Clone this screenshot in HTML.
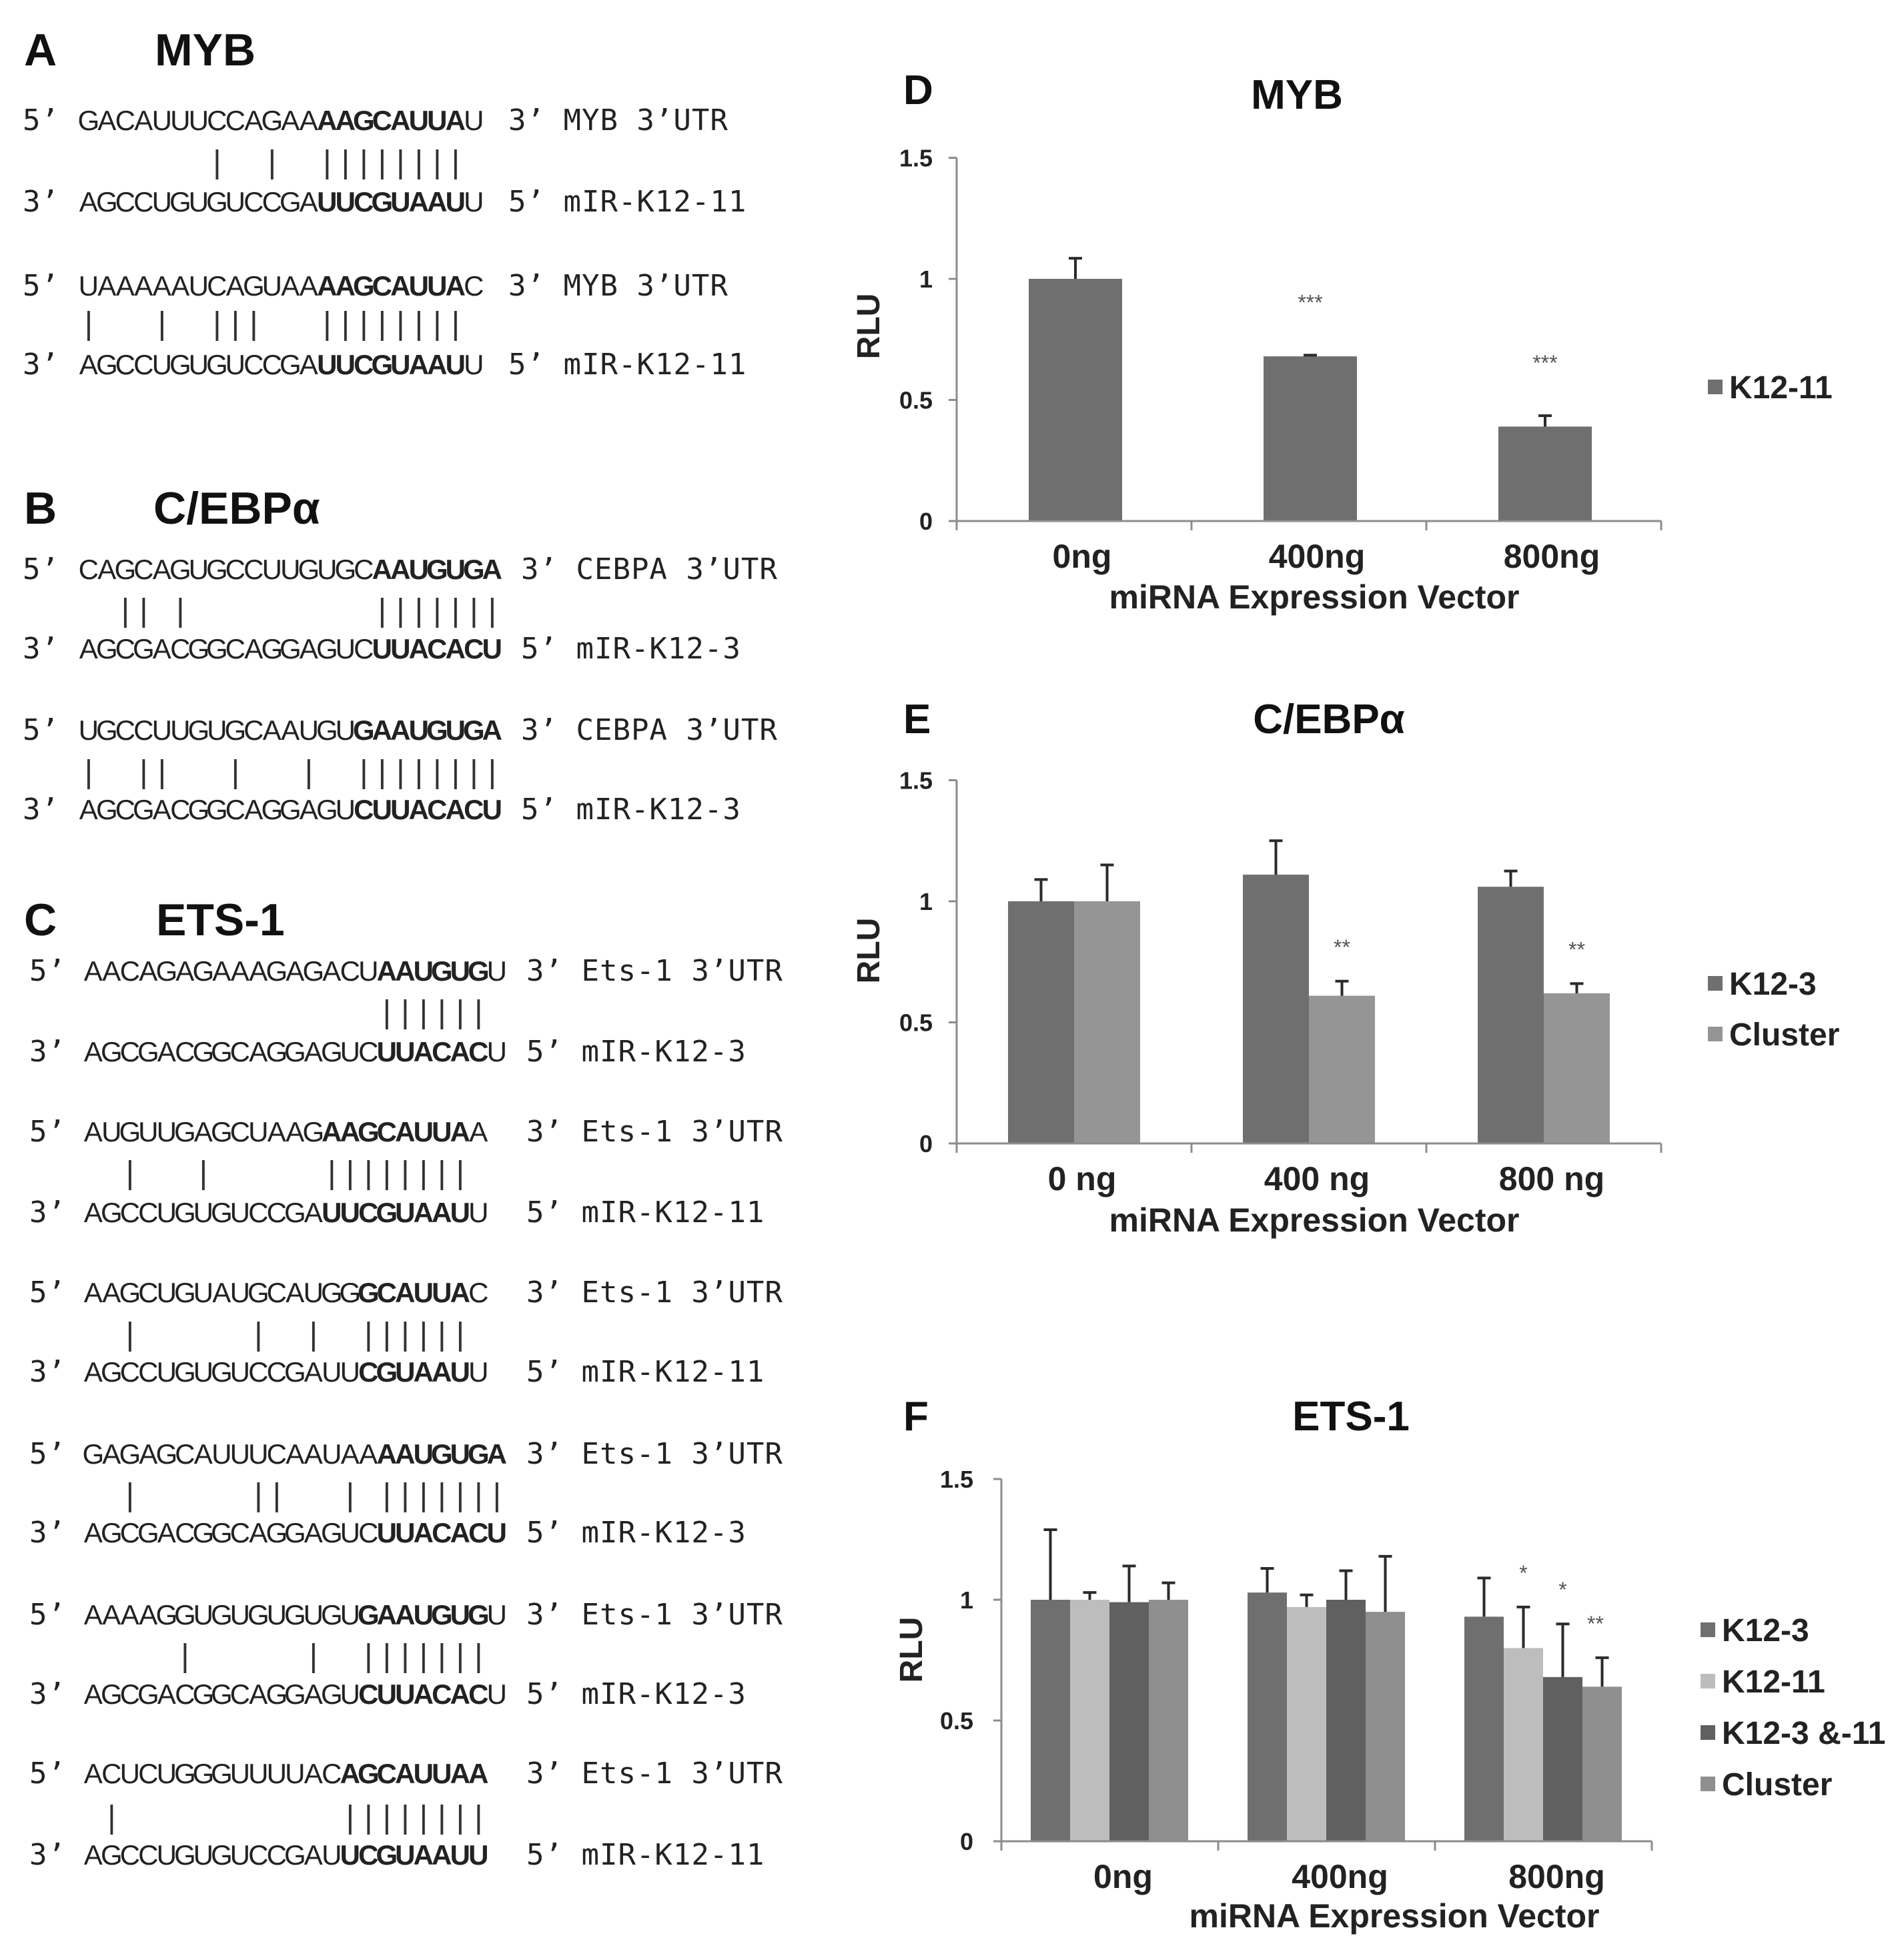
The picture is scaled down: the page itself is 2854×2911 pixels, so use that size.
<!DOCTYPE html>
<html><head><meta charset="utf-8">
<style>
html,body{margin:0;padding:0;background:#fff;}
svg{display:block;}
.ttl{font-family:"Liberation Sans",sans-serif;font-weight:bold;fill:#111;}
.seq{font-family:"Liberation Sans",sans-serif;font-size:42px;fill:#222;white-space:pre;}
.lbl{font-family:"DejaVu Sans Mono","Liberation Mono",monospace;font-size:44px;fill:#222;white-space:pre;letter-spacing:1px;}
.pipe{font-family:"Liberation Sans",sans-serif;font-size:48px;fill:#333;white-space:pre;}
.ax{font-family:"Liberation Sans",sans-serif;font-weight:bold;fill:#222;}
.star{font-family:"Liberation Sans",sans-serif;font-size:32px;fill:#555;}
.b{font-weight:bold;}
</style></head>
<body>
<svg id="fig" width="2854" height="2911" viewBox="0 0 2854 2911" xmlns="http://www.w3.org/2000/svg">
<rect width="2854" height="2911" fill="#fff"/>
<g id="left">
  <!-- A -->
  <text class="ttl" x="36" y="98" font-size="68">A</text>
  <text class="ttl" x="232" y="98" font-size="68">MYB</text>
  <text class="lbl" x="34" y="195">5’</text>
  <text class="seq row" data-x="119" data-y="195">GACAUUUCCAGAA<tspan class="b">AAGCAUUA</tspan>U</text>
  <text class="lbl" x="762" y="195">3’ MYB 3’UTR</text>
  <text class="pipe row" data-x="119" data-y="259">       |  |  ||||||||</text>
  <text class="lbl" x="34" y="317">3’</text>
  <text class="seq row" data-x="119" data-y="317">AGCCUGUGUCCGA<tspan class="b">UUCGUAAU</tspan>U</text>
  <text class="lbl" x="762" y="317">5’ mIR-K12-11</text>

  <text class="lbl" x="34" y="443">5’</text>
  <text class="seq row" data-x="119" data-y="443">UAAAAAUCAGUAA<tspan class="b">AAGCAUUA</tspan>C</text>
  <text class="lbl" x="762" y="443">3’ MYB 3’UTR</text>
  <text class="pipe row" data-x="119" data-y="501">|   |  |||   ||||||||</text>
  <text class="lbl" x="34" y="561">3’</text>
  <text class="seq row" data-x="119" data-y="561">AGCCUGUGUCCGA<tspan class="b">UUCGUAAU</tspan>U</text>
  <text class="lbl" x="762" y="561">5’ mIR-K12-11</text>

  <!-- B -->
  <text class="ttl" x="36" y="785" font-size="68">B</text>
  <text class="ttl" x="230" y="785" font-size="68">C/EBPα</text>
  <text class="lbl" x="34" y="868">5’</text>
  <text class="seq row" data-x="119" data-y="868">CAGCAGUGCCUUGUGC<tspan class="b">AAUGUGA</tspan></text>
  <text class="lbl" x="781" y="868">3’ CEBPA 3’UTR</text>
  <text class="pipe row" data-x="119" data-y="931">  || |          |||||||</text>
  <text class="lbl" x="34" y="987">3’</text>
  <text class="seq row" data-x="119" data-y="987">AGCGACGGCAGGAGUC<tspan class="b">UUACACU</tspan></text>
  <text class="lbl" x="781" y="987">5’ mIR-K12-3</text>

  <text class="lbl" x="34" y="1109">5’</text>
  <text class="seq row" data-x="119" data-y="1109">UGCCUUGUGCAAUGU<tspan class="b">GAAUGUGA</tspan></text>
  <text class="lbl" x="781" y="1109">3’ CEBPA 3’UTR</text>
  <text class="pipe row" data-x="119" data-y="1173">|  ||   |   |  ||||||||</text>
  <text class="lbl" x="34" y="1228">3’</text>
  <text class="seq row" data-x="119" data-y="1228">AGCGACGGCAGGAGU<tspan class="b">CUUACACU</tspan></text>
  <text class="lbl" x="781" y="1228">5’ mIR-K12-3</text>

  <!-- C -->
  <text class="ttl" x="36" y="1402" font-size="68">C</text>
  <text class="ttl" x="234" y="1402" font-size="68">ETS-1</text>

  <text class="lbl" x="44" y="1470">5’</text>
  <text class="seq row" data-x="126" data-y="1470">AACAGAGAAAGAGACU<tspan class="b">AAUGUG</tspan>U</text>
  <text class="lbl" x="789" y="1470">3’ Ets-1 3’UTR</text>
  <text class="pipe row" data-x="126" data-y="1533">                ||||||</text>
  <text class="lbl" x="44" y="1591">3’</text>
  <text class="seq row" data-x="126" data-y="1591">AGCGACGGCAGGAGUC<tspan class="b">UUACAC</tspan>U</text>
  <text class="lbl" x="789" y="1591">5’ mIR-K12-3</text>

  <text class="lbl" x="44" y="1711">5’</text>
  <text class="seq row" data-x="126" data-y="1711">AUGUUGAGCUAAG<tspan class="b">AAGCAUUA</tspan>A</text>
  <text class="lbl" x="789" y="1711">3’ Ets-1 3’UTR</text>
  <text class="pipe row" data-x="126" data-y="1774">  |   |      ||||||||</text>
  <text class="lbl" x="44" y="1832">3’</text>
  <text class="seq row" data-x="126" data-y="1832">AGCCUGUGUCCGA<tspan class="b">UUCGUAAU</tspan>U</text>
  <text class="lbl" x="789" y="1832">5’ mIR-K12-11</text>

  <text class="lbl" x="44" y="1952">5’</text>
  <text class="seq row" data-x="126" data-y="1952">AAGCUGUAUGCAUGG<tspan class="b">GCAUUA</tspan>C</text>
  <text class="lbl" x="789" y="1952">3’ Ets-1 3’UTR</text>
  <text class="pipe row" data-x="126" data-y="2016">  |      |  |  ||||||</text>
  <text class="lbl" x="44" y="2071">3’</text>
  <text class="seq row" data-x="126" data-y="2071">AGCCUGUGUCCGAUU<tspan class="b">CGUAAU</tspan>U</text>
  <text class="lbl" x="789" y="2071">5’ mIR-K12-11</text>

  <text class="lbl" x="44" y="2194">5’</text>
  <text class="seq row" data-x="126" data-y="2194">GAGAGCAUUUCAAUAA<tspan class="b">AAUGUGA</tspan></text>
  <text class="lbl" x="789" y="2194">3’ Ets-1 3’UTR</text>
  <text class="pipe row" data-x="126" data-y="2257">  |      ||   | |||||||</text>
  <text class="lbl" x="44" y="2312">3’</text>
  <text class="seq row" data-x="126" data-y="2312">AGCGACGGCAGGAGUC<tspan class="b">UUACACU</tspan></text>
  <text class="lbl" x="789" y="2312">5’ mIR-K12-3</text>

  <text class="lbl" x="44" y="2435">5’</text>
  <text class="seq row" data-x="126" data-y="2435">AAAAGGUGUGUGUGU<tspan class="b">GAAUGUG</tspan>U</text>
  <text class="lbl" x="789" y="2435">3’ Ets-1 3’UTR</text>
  <text class="pipe row" data-x="126" data-y="2498">     |      |  |||||||</text>
  <text class="lbl" x="44" y="2554">3’</text>
  <text class="seq row" data-x="126" data-y="2554">AGCGACGGCAGGAGU<tspan class="b">CUUACAC</tspan>U</text>
  <text class="lbl" x="789" y="2554">5’ mIR-K12-3</text>

  <text class="lbl" x="44" y="2673">5’</text>
  <text class="seq row" data-x="126" data-y="2673">ACUCUGGGUUUUAC<tspan class="b">AGCAUUAA</tspan></text>
  <text class="lbl" x="789" y="2673">3’ Ets-1 3’UTR</text>
  <text class="pipe row" data-x="126" data-y="2740"> |            ||||||||</text>
  <text class="lbl" x="44" y="2795">3’</text>
  <text class="seq row" data-x="126" data-y="2795">AGCCUGUGUCCGAU<tspan class="b">UCGUAAUU</tspan></text>
  <text class="lbl" x="789" y="2795">5’ mIR-K12-11</text>
</g>

<g>
  <text class="ttl" x="1354" y="156" font-size="62">D</text>
  <text class="ttl" x="1944" y="163" font-size="62" text-anchor="middle">MYB</text>
  <text class="ax" transform="translate(1318,489) rotate(-90)" font-size="48" text-anchor="middle">RLU</text>
  <text class="ax" x="1970" y="912" font-size="50" text-anchor="middle">miRNA Expression Vector</text>
  <g id="gD"></g>
</g>
<g>
  <text class="ttl" x="1354" y="1099" font-size="62">E</text>
  <text class="ttl" x="1992" y="1099" font-size="62" text-anchor="middle">C/EBPα</text>
  <text class="ax" transform="translate(1318,1425) rotate(-90)" font-size="48" text-anchor="middle">RLU</text>
  <text class="ax" x="1970" y="1846" font-size="50" text-anchor="middle">miRNA Expression Vector</text>
  <g id="gE"></g>
</g>
<g>
  <text class="ttl" x="1354" y="2144" font-size="62">F</text>
  <text class="ttl" x="2025" y="2144" font-size="62" text-anchor="middle">ETS-1</text>
  <text class="ax" transform="translate(1382,2473) rotate(-90)" font-size="48" text-anchor="middle">RLU</text>
  <text class="ax" x="2090" y="2889" font-size="50" text-anchor="middle">miRNA Expression Vector</text>
  <g id="gF"></g>
</g>
</svg>
<script>
// ---- chart data ----
var yTicks = [0, 0.5, 1, 1.5];
var yTickLabels = ["0", "0.5", "1", "1.5"];

var dCategories = ["0ng", "400ng", "800ng"];
var dSeriesNames = ["K12-11"];
var dK1211 = [1.0, 0.68, 0.39];
var dK1211Err = [0.085, 0.005, 0.045];
var dStars = ["", "***", "***"];

var eCategories = ["0 ng", "400 ng", "800 ng"];
var eSeriesNames = ["K12-3", "Cluster"];
var eK123 = [1.0, 1.11, 1.06];
var eK123Err = [0.09, 0.14, 0.065];
var eCluster = [1.0, 0.61, 0.62];
var eClusterErr = [0.15, 0.06, 0.04];
var eStarsCluster = ["", "**", "**"];

var fCategories = ["0ng", "400ng", "800ng"];
var fSeriesNames = ["K12-3", "K12-11", "K12-3 &-11", "Cluster"];
var fK123 = [1.0, 1.03, 0.93];
var fK123Err = [0.29, 0.10, 0.16];
var fK1211 = [1.0, 0.97, 0.80];
var fK1211Err = [0.03, 0.05, 0.17];
var fK123and11 = [0.99, 1.0, 0.68];
var fK123and11Err = [0.15, 0.12, 0.22];
var fCluster = [1.0, 0.95, 0.64];
var fClusterErr = [0.07, 0.23, 0.12];
var fStarsK1211 = ["", "", "*"];
var fStarsK123and11 = ["", "", "*"];
var fStarsCluster = ["", "", "**"];

var NS = "http://www.w3.org/2000/svg";
function mk(tag, attrs, parent) {
  var e = document.createElementNS(NS, tag);
  for (var k in attrs) e.setAttribute(k, attrs[k]);
  parent.appendChild(e);
  return e;
}

var CELL = 27.5;
document.querySelectorAll('.row').forEach(function (t) {
  var x0 = parseFloat(t.getAttribute('data-x'));
  var n = t.textContent.length;
  var xs = [];
  for (var i = 0; i < n; i++) xs.push((x0 + (i + 0.5) * CELL).toFixed(1));
  t.setAttribute('x', xs.join(' '));
  t.setAttribute('y', t.getAttribute('data-y'));
  t.setAttribute('text-anchor', 'middle');
});

function drawChart(g, cfg) {
  function yScale(v) { return cfg.y0 - v * cfg.unit; }
  function xGroup(i) { return cfg.axisX + i * cfg.groupW; }
  var nCat = cfg.categories.length;
  var axisEnd = cfg.axisX + nCat * cfg.groupW;
  cfg.series.forEach(function (s, si) {
    s.values.forEach(function (v, ci) {
      var x = xGroup(ci) + cfg.offset + si * cfg.barW;
      var r = mk('rect', {x: x, y: yScale(v), width: cfg.barW, height: cfg.y0 - yScale(v), fill: s.color}, g);
      
      
      var cx = x + cfg.barW / 2;
      var top = yScale(v + s.err[ci]);
      var eb = mk('g', {stroke: '#2a2a2a', 'stroke-width': 4}, g);
      
      
      mk('line', {x1: cx, x2: cx, y1: yScale(v), y2: top}, eb);
      mk('line', {x1: cx - 10, x2: cx + 10, y1: top, y2: top}, eb);
      if (s.stars && s.stars[ci]) {
        var st = mk('text', {x: cx + (s.starDx || 0), y: top - (s.starGap || 28), 'text-anchor': 'middle', 'class': 'star'}, g);
        
        
        st.textContent = s.stars[ci];
      }
    });
  });
  var ya = mk('line', {x1: cfg.axisX, x2: cfg.axisX, y1: yScale(1.5), y2: cfg.y0 + 12, stroke: '#8c8c8c', 'stroke-width': 3}, g);
  
  
  var xa = mk('line', {x1: cfg.axisX - 12, x2: axisEnd, y1: cfg.y0, y2: cfg.y0, stroke: '#8c8c8c', 'stroke-width': 3}, g);
  
  
  yTicks.forEach(function (t, i) {
    mk('line', {x1: cfg.axisX - 12, x2: cfg.axisX, y1: yScale(t), y2: yScale(t), stroke: '#8c8c8c', 'stroke-width': 3}, g);
    var lb = mk('text', {x: cfg.tickRight, y: yScale(t) + 13, 'text-anchor': 'end', 'class': 'ax', 'font-size': 36}, g);
    
    
    lb.textContent = yTickLabels[i];
  });
  for (var i = 0; i <= nCat; i++) {
    mk('line', {x1: xGroup(i), x2: xGroup(i), y1: cfg.y0, y2: cfg.y0 + 14, stroke: '#8c8c8c', 'stroke-width': 3}, g);
  }
  cfg.categories.forEach(function (c, i) {
    var lb = mk('text', {x: xGroup(i) + cfg.groupW / 2 + (cfg.catDx || 0), y: cfg.y0 + 70, 'text-anchor': 'middle', 'class': 'ax', 'font-size': 50}, g);
    
    
    lb.textContent = c;
  });
  cfg.series.forEach(function (s, si) {
    var ly = cfg.legendY + si * cfg.legendGap;
    var lg = mk('g', {}, g);
    
    
    mk('rect', {x: cfg.legendX, y: ly - 11, width: 22, height: 22, fill: s.color}, lg);
    var lt = mk('text', {x: cfg.legendX + 32, y: ly + 17, 'class': 'ax', 'font-size': 48}, lg);
    lt.textContent = s.name;
  });
}

drawChart(document.getElementById('gD'), {
  categories: dCategories, y0: 781, unit: 363, axisX: 1434, groupW: 352, offset: 108, barW: 140,
  tickRight: 1398, legendX: 2560, legendY: 580, legendGap: 76, catDx: 12,
  series: [{key: 'k12-11', name: dSeriesNames[0], values: dK1211, err: dK1211Err, color: '#6f6f6f', stars: dStars, starGap: 68}]
});
drawChart(document.getElementById('gE'), {
  categories: eCategories, y0: 1714, unit: 363, axisX: 1434, groupW: 352, offset: 77, barW: 99,
  tickRight: 1398, legendX: 2560, legendY: 1474, legendGap: 76, catDx: 12,
  series: [
    {key: 'k12-3', name: eSeriesNames[0], values: eK123, err: eK123Err, color: '#6f6f6f'},
    {key: 'cluster', name: eSeriesNames[1], values: eCluster, err: eClusterErr, color: '#959595', stars: eStarsCluster, starGap: 40}
  ]
});
drawChart(document.getElementById('gF'), {
  categories: fCategories, y0: 2760, unit: 362, axisX: 1501, groupW: 325, offset: 44, barW: 59,
  tickRight: 1459, legendX: 2549, legendY: 2443, legendGap: 77, catDx: 20,
  series: [
    {key: 'k12-3', name: fSeriesNames[0], values: fK123, err: fK123Err, color: '#6f6f6f'},
    {key: 'k12-11', name: fSeriesNames[1], values: fK1211, err: fK1211Err, color: '#bdbdbd', stars: fStarsK1211, starGap: 40},
    {key: 'k12-3-and-11', name: fSeriesNames[2], values: fK123and11, err: fK123and11Err, color: '#606060', stars: fStarsK123and11, starGap: 40},
    {key: 'cluster', name: fSeriesNames[3], values: fCluster, err: fClusterErr, color: '#8f8f8f', stars: fStarsCluster, starGap: 40, starDx: -10}
  ]
});
</script>
</body></html>
